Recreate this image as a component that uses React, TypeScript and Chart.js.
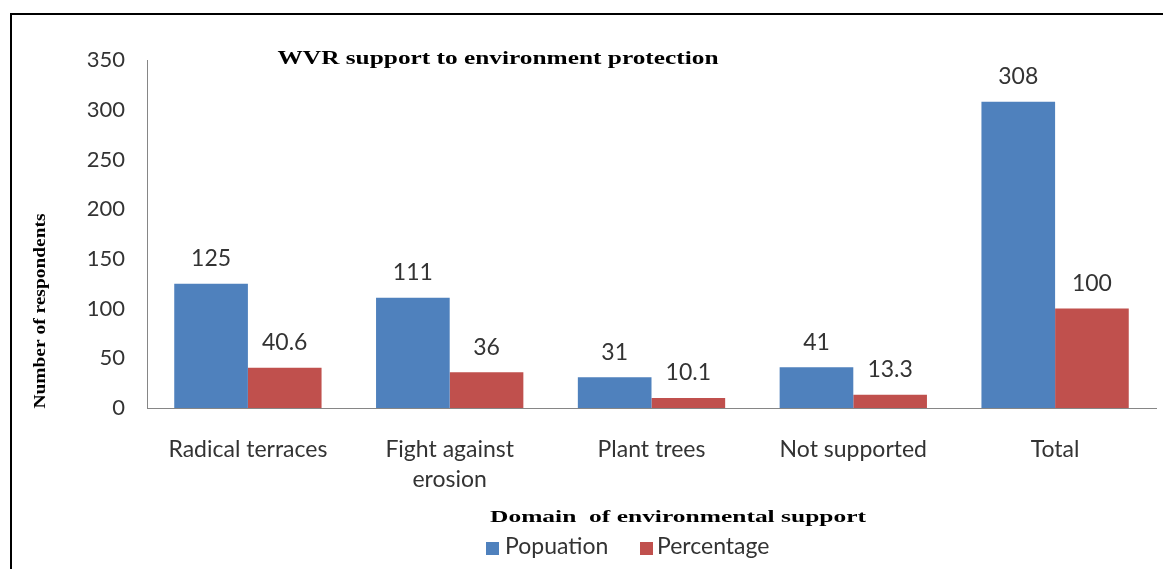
import React, { useEffect, useRef } from "react";
import { Chart, registerables } from "chart.js";

Chart.register(...registerables);

const categories: (string | string[])[] = [
  "Radical terraces",
  ["Fight against", "erosion"],
  "Plant trees",
  "Not supported",
  "Total",
];
const populationValues = [125, 111, 31, 41, 308];
const percentageValues = [40.6, 36, 10.1, 13.3, 100];
const seriesNames = ["Popuation", "Percentage"];
const yTicks = [0, 50, 100, 150, 200, 250, 300, 350];

const chartTitle = "WVR support to environment protection";
const yTitle = "Number of respondents";
const xTitle = "Domain  of environmental support";

const BLUE = "#4F81BD";
const RED = "#C0504D";
const TEXT = "#333333";
const SANS = "Lato, 'Open Sans', sans-serif";
const SERIF = "'Liberation Serif', 'Times New Roman', serif";

// Draw text stretched horizontally so it spans a given width.
function fitText(
  ctx: CanvasRenderingContext2D,
  text: string,
  cx: number,
  cy: number,
  width: number,
  font: string,
  rotate = false
) {
  ctx.save();
  ctx.font = font;
  ctx.fillStyle = "#000";
  ctx.textAlign = "center";
  ctx.textBaseline = "middle";
  const w = ctx.measureText(text).width;
  const sx = width / w;
  ctx.translate(cx, cy);
  if (rotate) ctx.rotate(-Math.PI / 2);
  ctx.scale(sx, 1);
  ctx.fillText(text, 0, 0);
  ctx.restore();
}

const decorations = {
  id: "decorations",
  afterDraw(chart: any) {
    const ctx: CanvasRenderingContext2D = chart.ctx;

    // frame
    ctx.save();
    ctx.strokeStyle = "#000";
    ctx.lineWidth = 2;
    ctx.beginPath();
    ctx.moveTo(11, 600);
    ctx.lineTo(11, 14);
    ctx.lineTo(1200, 14);
    ctx.stroke();
    ctx.restore();

    // value labels above bars
    ctx.save();
    ctx.font = `23px ${SANS}`;
    ctx.fillStyle = TEXT;
    ctx.textAlign = "center";
    ctx.textBaseline = "middle";
    chart.data.datasets.forEach((ds: any, i: number) => {
      const meta = chart.getDatasetMeta(i);
      meta.data.forEach((bar: any, j: number) => {
        ctx.fillText(String(ds.data[j]), bar.x, bar.y - 25);
      });
    });
    ctx.restore();

    // titles
    fitText(ctx, chartTitle, 498, 59, 441, `bold 18px ${SERIF}`);
    fitText(ctx, yTitle, 41, 311, 195, `bold 17px ${SERIF}`, true);
    fitText(ctx, xTitle, 678, 518, 376, `bold 17px ${SERIF}`);

    // legend
    ctx.save();
    ctx.font = `23px ${SANS}`;
    ctx.textBaseline = "middle";
    ctx.textAlign = "left";
    const ly = 547;
    const items = [
      { x: 486, tx: 505, color: BLUE, label: seriesNames[0] },
      { x: 640, tx: 657, color: RED, label: seriesNames[1] },
    ];
    items.forEach((it) => {
      ctx.fillStyle = it.color;
      ctx.fillRect(it.x, ly - 5, 13, 13);
      ctx.fillStyle = TEXT;
      ctx.fillText(it.label, it.tx, ly);
    });
    ctx.restore();
  },
};

export default function App() {
  const ref = useRef<HTMLCanvasElement>(null);

  useEffect(() => {
    if (!ref.current) return;
    const chart = new Chart(ref.current, {
      type: "bar",
      data: {
        labels: categories,
        datasets: [
          {
            label: seriesNames[0],
            data: populationValues,
            backgroundColor: BLUE,
            categoryPercentage: 0.73,
            barPercentage: 1,
          },
          {
            label: seriesNames[1],
            data: percentageValues,
            backgroundColor: RED,
            categoryPercentage: 0.73,
            barPercentage: 1,
          },
        ],
      },
      options: {
        animation: false,
        responsive: false,
        maintainAspectRatio: false,
        layout: { padding: { top: 60, right: 7, left: 0, bottom: 0 } },
        plugins: {
          legend: { display: false },
          tooltip: { enabled: false },
          title: { display: false },
        },
        scales: {
          x: {
            grid: { display: false, drawTicks: false },
            border: { display: true, color: "#868686", width: 1 },
            ticks: {
              color: TEXT,
              font: { family: SANS, size: 23, lineHeight: 1.3 },
              padding: 27,
              maxRotation: 0,
              autoSkip: false,
            },
            afterFit(scale: any) {
              scale.height = 161;
            },
          },
          y: {
            min: 0,
            max: 350,
            grid: { display: false, drawTicks: false },
            border: { display: true, color: "#868686", width: 1 },
            afterBuildTicks(scale: any) {
              scale.ticks = yTicks.map((v) => ({ value: v }));
            },
            ticks: {
              color: TEXT,
              font: { family: SANS, size: 22 },
              padding: 22,
            },
            afterFit(scale: any) {
              scale.width = 147;
            },
          },
        },
      },
      plugins: [decorations],
    });
    return () => chart.destroy();
  }, []);

  return (
    <div style={{ position: "fixed", left: 0, top: 0, width: 1163, height: 569, background: "#fff" }}>
      <canvas ref={ref} width={1163} height={569} style={{ display: "block" }} />
    </div>
  );
}
